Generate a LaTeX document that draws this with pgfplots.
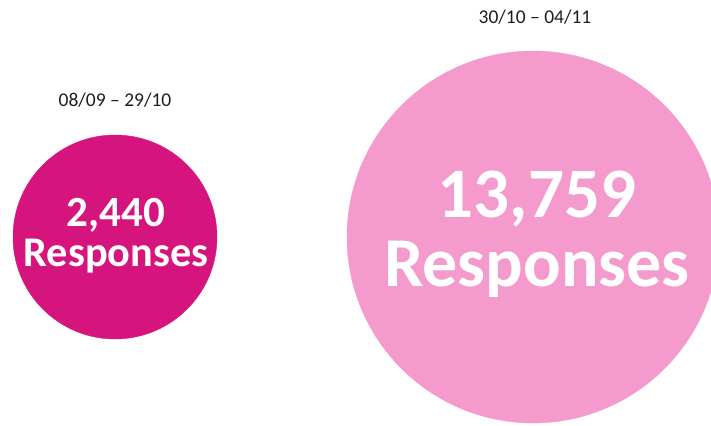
\documentclass[border=0pt]{standalone}
\usepackage{pgfplots}
\pgfplotsset{compat=1.18}
\usepackage{fontspec}
\setmainfont{Carlito}
\definecolor{darkpink}{RGB}{214,20,126}
\definecolor{lightpink}{RGB}{245,154,204}
\definecolor{labelgray}{RGB}{30,30,30}
\begin{document}
\begin{tikzpicture}
\begin{axis}[
  x=1pt, y=1pt, scale only axis,
  xmin=0, xmax=711, ymin=0, ymax=425,
  hide axis, clip=true, set layers,
]
% circles: (x, y) centres, radius as mark size
\addplot[only marks, mark=*, color=darkpink, mark size=102pt] coordinates {(115,188)};
\addplot[only marks, mark=*, color=lightpink, mark size=186pt] coordinates {(533,188)};
\begin{pgfonlayer}{axis foreground}
\node[anchor=base, text=labelgray, font=\fontsize{19.5}{22}\selectfont] at (axis cs:115,318) {08/09 – 29/10};
\node[anchor=base, text=labelgray, font=\fontsize{19.5}{22}\selectfont] at (axis cs:535,401) {30/10 – 04/11};
\node[anchor=base, text=white, font=\bfseries\fontsize{43}{50}\selectfont, inner sep=0pt] at (axis cs:116,198) {2,440};
\node[anchor=base, text=white, font=\bfseries\fontsize{42.3}{50}\selectfont, inner sep=0pt] at (axis cs:116,158) {Responses};
\node[anchor=base, text=white, font=\bfseries\fontsize{71}{80}\selectfont, inner sep=0pt] at (axis cs:537,207) {13,759};
\node[anchor=base, text=white, font=\bfseries\fontsize{70}{80}\selectfont, inner sep=0pt] at (axis cs:537,138) {Responses};
\end{pgfonlayer}
\end{axis}
\pgfresetboundingbox
\path[use as bounding box] (0,0) rectangle (711pt,425pt);
\end{tikzpicture}
\end{document}
